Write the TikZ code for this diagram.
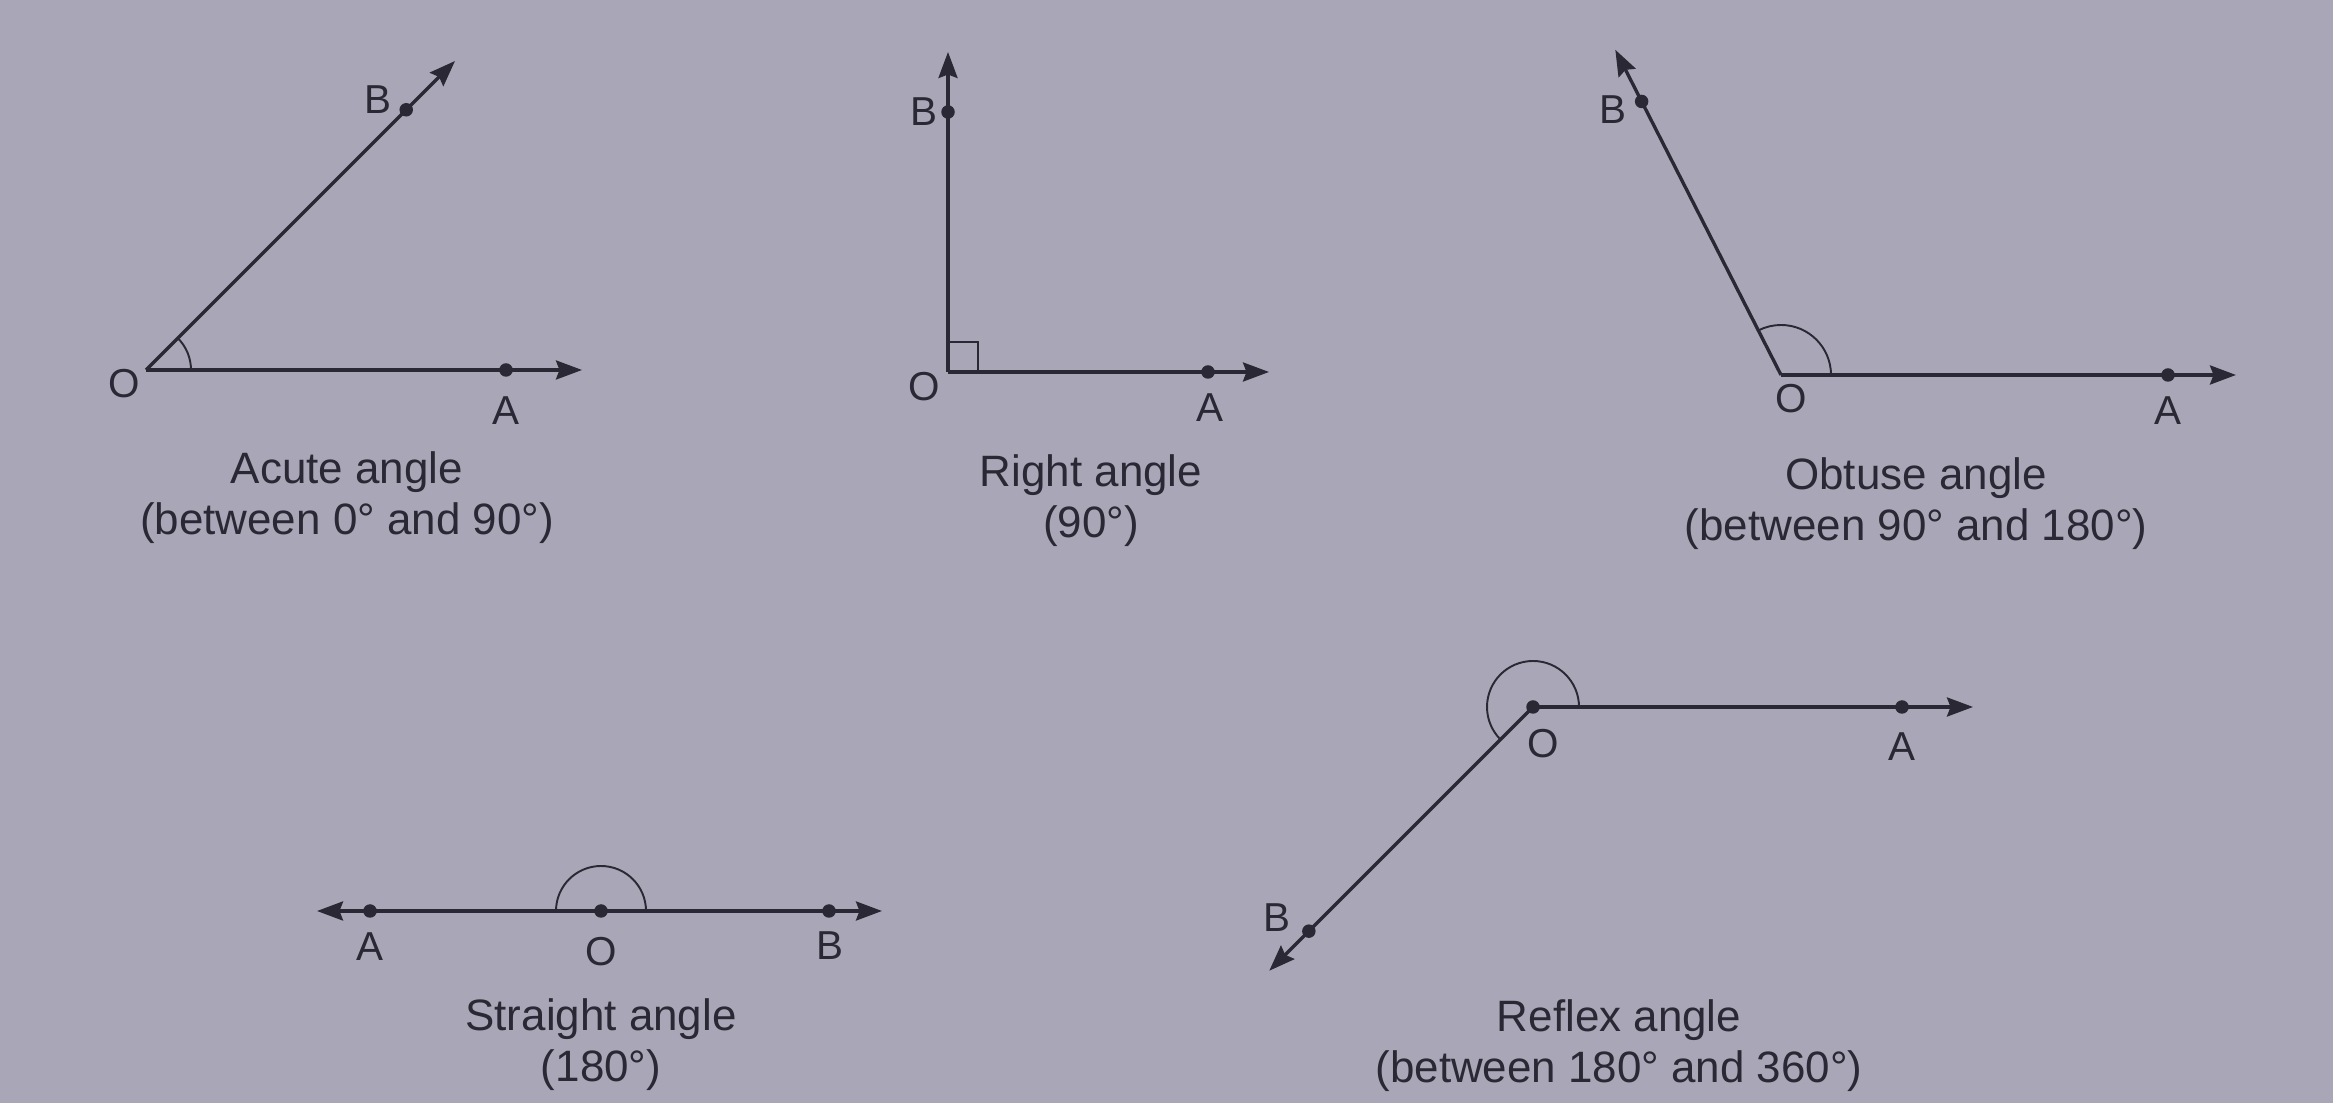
\documentclass[tikz,border=0pt]{standalone}
\usepackage{fontspec}
\setmainfont{Liberation Sans}
\usetikzlibrary{arrows.meta}
\definecolor{paper}{RGB}{169,166,183}
\definecolor{ink}{RGB}{42,40,52}

\begin{document}
\begin{tikzpicture}[>={Stealth[length=2.6mm,width=1.9mm,inset=0.35mm]},
 ray/.style={->,draw=ink,line width=0.95pt},
 pt/.style={circle,fill=ink,inner sep=0pt,minimum size=1.35mm},
 lbl/.style={font=\fontsize{11.5}{13}\selectfont,text=ink,inner sep=0pt},
 captext/.style={font=\fontsize{12.5}{14.5}\selectfont,text=ink,align=center,inner sep=0pt},
 arcline/.style={draw=ink,line width=0.55pt}]
\fill[paper] (0,0) rectangle (23.33,11.03);
% acute angle
\coordinate (aO) at (1.46,7.33);
\node[pt] (aA) at (5.06,7.33) {};
\node[pt] (aB) at ([shift={(45:3.68)}]aO) {};
\coordinate (aAe) at (5.82,7.33);
\coordinate (aBe) at ([shift={(45:4.37)}]aO);
\draw[ray] (aO) -- (aAe);
\draw[ray] (aO) -- (aBe);
\draw[arcline] ([xshift=4.5mm]aO) arc (0:45:4.5mm);
\node[lbl] (laO) at (1.24,7.19) {O};
\node[lbl] (laA) at (5.06,6.92) {A};
\node[lbl] (laB) at (3.78,10.03) {B};
\node[captext] (capa) at (3.47,6.05) {Acute angle\\(between 0° and 90°)};
% right angle
\coordinate (rO) at (9.48,7.31);
\node[pt] (rA) at (12.08,7.31) {};
\node[pt] (rB) at (9.48,9.91) {};
\coordinate (rAe) at (12.69,7.31);
\coordinate (rBe) at (9.48,10.51);
\draw[ray] (rO) -- (rAe);
\draw[ray] (rO) -- (rBe);
\draw[arcline] ([xshift=3mm]rO) |- ([yshift=3mm]rO);
\node[lbl] (lrO) at (9.24,7.16) {O};
\node[lbl] (lrA) at (12.10,6.95) {A};
\node[lbl] (lrB) at (9.24,9.91) {B};
\node[captext] (capr) at (10.91,6.02) {Right angle\\(90°)};
% obtuse angle
\coordinate (oO) at (17.81,7.28);
\node[pt] (oA) at (21.68,7.28) {};
\node[pt] (oB) at ([shift={(117:3.07)}]oO) {};
\coordinate (oAe) at (22.36,7.28);
\coordinate (oBe) at ([shift={(117:3.65)}]oO);
\draw[ray] (oO) -- (oAe);
\draw[ray] (oO) -- (oBe);
\draw[arcline] ([xshift=5mm]oO) arc (0:117:5mm);
\node[lbl] (loO) at (17.91,7.04) {O};
\node[lbl] (loA) at (21.68,6.92) {A};
\node[lbl] (loB) at (16.13,9.93) {B};
\node[captext] (capo) at (19.16,5.99) {Obtuse angle\\(between 90° and 180°)};
% straight angle
\node[pt] (sO) at (6.01,1.92) {};
\node[pt] (sA) at (3.70,1.92) {};
\node[pt] (sB) at (8.29,1.92) {};
\coordinate (sAe) at (3.17,1.92);
\coordinate (sBe) at (8.82,1.92);
\draw[ray] (sO.center) -- (sAe);
\draw[ray] (sO.center) -- (sBe);
\draw[arcline] ([xshift=4.5mm]sO.center) arc (0:180:4.5mm);
\node[lbl] (lsA) at (3.70,1.56) {A};
\node[lbl] (lsO) at (6.01,1.51) {O};
\node[lbl] (lsB) at (8.30,1.57) {B};
\node[captext] (caps) at (6.01,0.58) {Straight angle\\(180°)};
% reflex angle
\node[pt] (xO) at (15.33,3.96) {};
\node[pt] (xA) at (19.02,3.96) {};
\node[pt] (xB) at ([shift={(225:3.17)}]xO.center) {};
\coordinate (xAe) at (19.73,3.96);
\coordinate (xBe) at ([shift={(225:3.73)}]xO.center);
\draw[ray] (xO.center) -- (xAe);
\draw[ray] (xO.center) -- (xBe);
\draw[arcline] ([xshift=4.6mm]xO.center) arc (0:225:4.6mm);
\node[lbl] (lxO) at (15.43,3.59) {O};
\node[lbl] (lxA) at (19.02,3.56) {A};
\node[lbl] (lxB) at (12.77,1.85) {B};
\node[captext] (capx) at (16.19,0.57) {Reflex angle\\(between 180° and 360°)};
\end{tikzpicture}
\end{document}
